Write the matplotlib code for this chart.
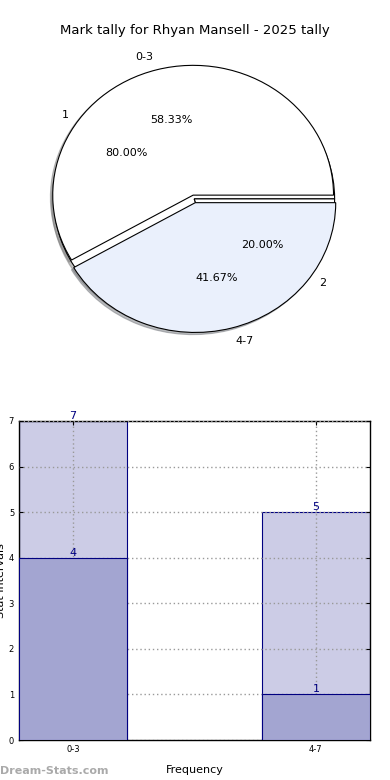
import matplotlib
matplotlib.use("Agg")
import matplotlib.pyplot as plt

title = "Mark tally for Rhyan Mansell - 2025 tally"
outer_labels = ["0-3", "4-7"]
outer_values = [7, 5]
inner_labels = ["1", "2"]
inner_values = [4, 1]

bar_categories = ["0-3", "4-7"]
bar_totals = [7, 5]
bar_inner = [4, 1]

fig = plt.figure(figsize=(3.9, 7.8), dpi=100)
fig.text(0.5, 0.961, title, ha="center", va="center", fontsize=9.5)

# Pie
ax1 = fig.add_axes([0.048, 0.537, 0.9, 0.416])
shadow = dict(ox=-0.012, oy=-0.012, shade=0.5)
w_in, t_in, a_in = ax1.pie(inner_values, labels=inner_labels, autopct="%.2f%%",
                           startangle=0, colors=["white", "white"], shadow=shadow,
                           labeldistance=1.1, pctdistance=0.6,
                           wedgeprops=dict(edgecolor="black", linewidth=0.8),
                           textprops=dict(fontsize=8))
w_out, t_out, a_out = ax1.pie(outer_values, labels=outer_labels, autopct="%.2f%%",
                              startangle=0, colors=["white", "#eaf0fc"], shadow=shadow,
                              explode=[0.03, 0.03], labeldistance=1.1, pctdistance=0.6,
                              wedgeprops=dict(edgecolor="black", linewidth=0.8),
                              textprops=dict(fontsize=8))
for t in list(t_out) + list(a_out) + list(t_in) + list(a_in):
    t.set_zorder(20)
ax1.set_aspect("auto")
ax1.set_xlim(-1.25, 1.25)
ax1.set_ylim(-1.25, 1.25)
ax1.axis("off")

# Bars
ax2 = fig.add_axes([19 / 390, 40 / 780, 351 / 390, 319 / 780])
x = list(range(len(bar_categories)))
bw = 0.446
ax2.bar(x, bar_totals, width=bw, color="#cccce6", edgecolor="#000080", linewidth=0.8, zorder=2)
ax2.bar(x, bar_inner, width=bw, color="#a3a5d1", edgecolor="#000080", linewidth=0.8, zorder=3)
for xi, v in zip(x, bar_totals):
    ax2.text(xi, v, str(v), ha="center", va="bottom", color="#000080", fontsize=8, zorder=5)
for xi, v in zip(x, bar_inner):
    ax2.text(xi, v, str(v), ha="center", va="bottom", color="#000080", fontsize=8, zorder=5)
ax2.set_xlim(-bw / 2, 1 + bw / 2)
ax2.set_ylim(0, 7)
ax2.set_xticks(x)
ax2.set_xticklabels(bar_categories, fontsize=6)
ax2.set_yticks(range(0, 8))
ax2.tick_params(axis="y", labelsize=6, direction="in", right=True, length=3)
ax2.tick_params(axis="x", direction="in", top=True, length=3)
ax2.grid(True, linestyle=(0, (1, 2)), color="#999999", linewidth=1.0, zorder=4)
ax2.set_axisbelow(False)
for s in ax2.spines.values():
    s.set_linewidth(1.0)
ax2.set_xlabel("Frequency", fontsize=8, labelpad=8)
ax2.set_ylabel("Stat Intervals", fontsize=8, labelpad=2)

fig.text(0.0, 0.012, "Dream-Stats.com", fontsize=8, color="#aaaaaa", fontweight="bold",
         ha="left", va="center")

fig.savefig("out.png", dpi=100)
